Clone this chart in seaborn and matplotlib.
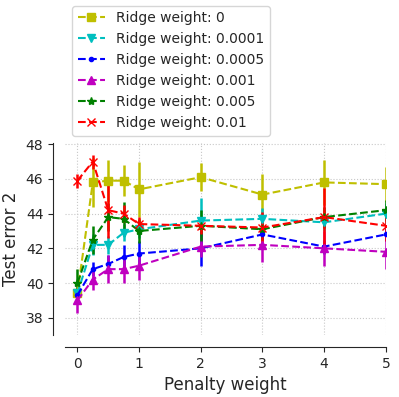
import matplotlib
matplotlib.use("Agg")
import matplotlib.pyplot as plt
from matplotlib.lines import Line2D
import seaborn as sns

# penalty weights on x
penalty = [0, 0.25, 0.5, 0.75, 1, 2, 3, 4, 5]

ridge_labels = ["0", "0.0001", "0.0005", "0.001", "0.005", "0.01"]

err_r0 = [39.4, 45.8, 45.9, 45.9, 45.4, 46.1, 45.1, 45.8, 45.7]
err_r1 = [39.4, 42.2, 42.2, 42.9, 43.1, 43.6, 43.7, 43.5, 44.0]
err_r2 = [39.3, 40.8, 41.1, 41.5, 41.7, 42.0, 42.8, 42.1, 42.8]
err_r3 = [39.0, 40.2, 40.8, 40.8, 41.0, 42.1, 42.2, 42.0, 41.8]
err_r4 = [40.0, 42.5, 43.8, 43.7, 43.0, 43.3, 43.1, 43.8, 44.2]
err_r5 = [45.9, 47.0, 44.2, 44.0, 43.4, 43.3, 43.2, 43.8, 43.3]

sd_r0 = [0.3, 1.4, 1.2, 0.9, 1.6, 0.8, 1.2, 1.3, 1.0]
sd_r1 = [0.3, 0.6, 0.5, 0.5, 0.5, 1.3, 0.6, 0.5, 0.6]
sd_r2 = [0.3, 0.4, 0.5, 0.7, 0.7, 1.0, 0.3, 0.4, 0.4]
sd_r3 = [0.7, 0.6, 0.8, 0.8, 0.8, 0.6, 1.0, 1.0, 1.0]
sd_r4 = [0.8, 0.8, 0.8, 1.0, 0.7, 0.9, 0.6, 0.6, 0.6]
sd_r5 = [0.4, 0.4, 1.6, 0.5, 0.4, 0.5, 0.9, 1.7, 0.9]

means = [err_r0, err_r1, err_r2, err_r3, err_r4, err_r5]
sds = [sd_r0, sd_r1, sd_r2, sd_r3, sd_r4, sd_r5]
colors = ['y', 'c', 'b', 'm', 'g', 'r']
markers = ['s', 'v', '.', '^', '*', 'x']

sns.set_style("ticks", {"axes.grid": True, "grid.linestyle": ":", "grid.color": "#c8c8c8"})
plt.rcParams['font.family'] = ['DejaVu Sans']

fig = plt.figure(figsize=(3.99, 3.97), dpi=100)
ax = fig.add_axes([0.163, 0.156, 0.804, 0.485])

handles = []
for lab, m, s, c, mk in zip(ridge_labels, means, sds, colors, markers):
    ax.errorbar(penalty, m, yerr=s, color=c, marker=mk, linestyle='--',
                markersize=6, linewidth=1.5, elinewidth=1.8)
    handles.append(Line2D([], [], color=c, marker=mk, linestyle='--',
                          markersize=6, linewidth=1.5, label='Ridge weight: ' + lab))

ax.set_xlim(-0.2, 5)
ax.set_ylim(37, 48.1)
ax.set_xticks([0, 1, 2, 3, 4, 5])
ax.set_yticks([38, 40, 42, 44, 46, 48])
ax.tick_params(labelsize=10)
ax.set_xlabel('Penalty weight', fontsize=12)
ax.set_ylabel('Test error 2', fontsize=12)
sns.despine(ax=ax, offset=8.6)

ax.legend(handles=handles, loc='lower left', bbox_to_anchor=(0.0, 1.0), fontsize=10, frameon=True)

fig.savefig('out.png', dpi=100)
